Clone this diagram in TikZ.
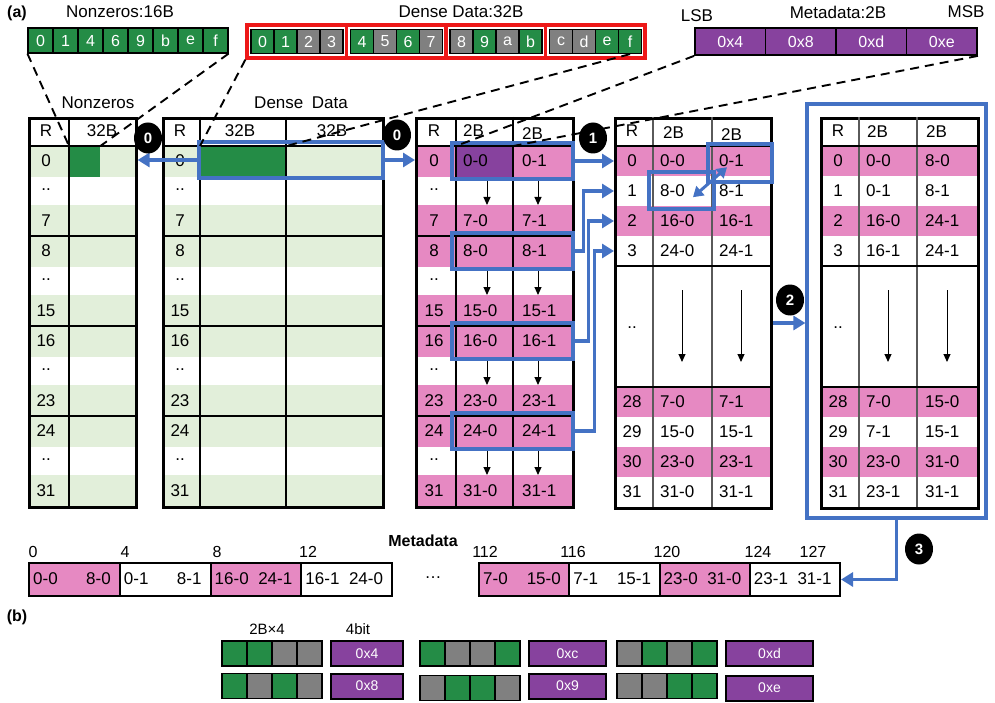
\documentclass[tikz,border=0pt]{standalone}
\usepackage{fontspec}
\setmainfont{Liberation Sans}
\usetikzlibrary{arrows.meta, positioning, shapes.geometric}
\definecolor{lightgreen}{RGB}{226,239,218}
\definecolor{nzgreen}{RGB}{36,140,70}
\definecolor{zgray}{RGB}{128,128,128}
\definecolor{rowpink}{RGB}{230,137,194}
\definecolor{metapurple}{RGB}{135,66,158}
\definecolor{selblue}{RGB}{68,114,196}
\definecolor{grpred}{RGB}{237,24,24}
\definecolor{sepgray}{RGB}{90,90,90}

\newcommand{\patcells}[4]{% x, y, name prefix, cell styles
  \foreach \cs [count=\k from 0] in {#4}
    \node[\cs, line width=1.6pt] (#3\k) at ({#1+12.5+25*\k},#2) {};}

\begin{document}
\begin{tikzpicture}[x=1pt, y=-1pt,
    every node/.style={font=\fontsize{17}{20}\selectfont, inner sep=0pt},
    lbl/.style={anchor=west},
    nzc/.style={draw=black, line width=1.2pt, fill=nzgreen, text=white,
                minimum width=25pt, minimum height=25pt,
                font=\fontsize{16}{18}\selectfont},
    zc/.style={nzc, fill=zgray},
    grpbox/.style={draw=grpred, line width=3.2pt, minimum width=99.5pt, minimum height=33pt},
    metac/.style={draw=black, line width=1.8pt, fill=metapurple, text=white,
                  minimum width=70.5pt, minimum height=27pt,
                  font=\fontsize{16}{18}\selectfont},
    tabframe/.style={draw=black, line width=2.6pt, anchor=north west},
    colline/.style={line width=1.4pt},
    grpline/.style={line width=2.6pt},
    selbox/.style={draw=selblue, line width=3.2pt},
    selarrow/.style={draw=selblue, line width=3.2pt, -{Triangle[length=12pt,width=14pt]}},
    swaparrow/.style={draw=selblue, line width=3pt,
                      {Triangle[length=10pt,width=12pt]}-{Triangle[length=10pt,width=12pt]}},
    downarrow/.style={-{Triangle[length=8pt,width=7pt]}, line width=1pt},
    dline/.style={dash pattern=on 9pt off 6pt, line width=1.9pt},
    badge/.style={ellipse, fill=black, text=white, minimum width=28pt, minimum height=31pt,
                  font=\bfseries\fontsize{15}{17}\selectfont},
    metabox/.style={draw=black, line width=2pt, minimum height=33pt, anchor=north west},
    patbox/.style={draw=black, line width=2pt, fill=metapurple, text=white,
                   minimum height=25pt, anchor=west, font=\fontsize{14}{16}\selectfont}
  ]
  \useasboundingbox (0,0) rectangle (995,703);

  % ---- (a) top strips
  \node[font=\bfseries\fontsize{16}{18}\selectfont] (alabel) at (17,13) {(a)};
  \node (nztitle) at (120,12) {Nonzeros:16B};
  \foreach \v [count=\i] in {0,1,4,6,9,b,e,f}
    \node[nzc] (nz\i) at ({15.5+25*\i},40.5) {\v};

  \node (ddtitle) at (461,12) {Dense Data:32B};
  \foreach \v/\cs [count=\j from 0] in {0/nzc,1/nzc,2/zc,3/zc,4/nzc,5/zc,6/nzc,7/zc,
                                        8/zc,9/nzc,a/zc,b/nzc,c/zc,d/zc,e/nzc,f/nzc} {
    \pgfmathtruncatemacro\gk{\j/4}
    \pgfmathtruncatemacro\pk{\j-4*\gk}
    \node[\cs, minimum width=23pt, minimum height=24pt] (dd\j) at ({262.5+99.5*\gk+23*\pk},41.5) {\v};
  }
  \foreach \k in {0,...,3}
    \node[grpbox] (dgrp\k) at ({296.75+99.5*\k},41.5) {};

  \node (lsb) at (697,16) {LSB};
  \node (mdtitle) at (838,12) {Metadata:2B};
  \node (msb) at (966,12) {MSB};
  \foreach \v [count=\i] in {0x4,0x8,0xd,0xe}
    \node[metac] (md\i) at ({659.75+70.5*\i},41.5) {\v};

  % ---- table 1: nonzeros
  \node (nzhead) at (98,103) {Nonzeros};
  \fill[lightgreen] (28,146) rectangle (135,506);
  \foreach \g in {0,...,3}
    \fill[white] (28,{177+90*\g}) rectangle (135,{205+90*\g});
  \node[fill=nzgreen, minimum width=31pt, minimum height=31pt, anchor=north west] (nzcell) at (69,146) {};
  \node[tabframe, minimum width=107pt, minimum height=389pt] (tab1) at (28,117) {};
  \draw[colline] (69,117) -- (69,506);
  \foreach \yy in {146,236,326,416}
    \draw[grpline] (28,\yy) -- (135,\yy);
  \node (t1h) at (46,131) {R};
  \node (t1d) at (102,131) {32B};
  \foreach \g/\va/\vc in {0/0/7,1/8/15,2/16/23,3/24/31} {
    \node (t1r\va) at (46,{161+90*\g}) {\va};
    \node (t1s\va) at (46,{190+90*\g}) {..};
    \node (t1r\vc) at (46,{221+90*\g}) {\vc};
  }

  % ---- table 2: dense data
  \node (ddhead) at (301,103) {Dense\enspace Data};
  \fill[lightgreen] (162,146) rectangle (382,506);
  \foreach \g in {0,...,3}
    \fill[white] (162,{177+90*\g}) rectangle (382,{205+90*\g});
  \node[fill=nzgreen, minimum width=86pt, minimum height=31pt, anchor=north west] (ddcell) at (200,146) {};
  \node[tabframe, minimum width=220pt, minimum height=389pt] (tab2) at (162,117) {};
  \draw[colline] (200,117) -- (200,506) (286,117) -- (286,506);
  \foreach \yy in {146,236,326,416}
    \draw[grpline] (162,\yy) -- (382,\yy);
  \node (t2h) at (180,131) {R};
  \node (t2d) at (240,131) {32B};
  \node (t2e) at (332,131) {32B};
  \foreach \g/\va/\vc in {0/0/7,1/8/15,2/16/23,3/24/31} {
    \node (t2r\va) at (180,{161+90*\g}) {\va};
    \node (t2s\va) at (180,{190+90*\g}) {..};
    \node (t2r\vc) at (180,{221+90*\g}) {\vc};
  }

  % ---- table 3: 2B halves
  \fill[rowpink] (415,146) rectangle (572,506);
  \foreach \g in {0,...,3}
    \fill[white] (415,{177+90*\g}) rectangle (572,{205+90*\g});
  \node[fill=metapurple, minimum width=57pt, minimum height=31pt, anchor=north west] (mdcell) at (456,146) {};
  \node[tabframe, minimum width=157pt, minimum height=389pt] (tab3) at (415,117) {};
  \draw[colline] (456,117) -- (456,506) (513,117) -- (513,506);
  \foreach \yy in {146,236,326,416}
    \draw[grpline] (415,\yy) -- (572,\yy);
  \node (t3h) at (434,131) {R};
  \node[lbl] (t3d) at (463,131) {2B};
  \node[lbl] (t3e) at (522,134) {2B};
  \foreach \g/\va/\vc in {0/0/7,1/8/15,2/16/23,3/24/31} {
    \node (t3r\va) at (434,{161+90*\g}) {\va};
    \node (t3s\va) at (434,{190+90*\g}) {..};
    \node (t3r\vc) at (434,{221+90*\g}) {\vc};
    \node[lbl] (t3a\va) at (463,{161+90*\g}) {\va-0};
    \node[lbl] (t3b\va) at (522,{161+90*\g}) {\va-1};
    \node[lbl] (t3a\vc) at (463,{221+90*\g}) {\vc-0};
    \node[lbl] (t3b\vc) at (522,{221+90*\g}) {\vc-1};
    \draw[downarrow] (487,{180+90*\g}) -- (487,{205+90*\g});
    \draw[downarrow] (538,{180+90*\g}) -- (538,{205+90*\g});
  }

  % ---- table 4: interleaved rows
  \fill[white] (614,146) rectangle (770,507);
  \foreach \yy in {146,206,387,447}
    \fill[rowpink] (614,\yy) rectangle (770,{\yy+30});
  \node[tabframe, minimum width=156pt, minimum height=390pt] (tab4) at (614,117) {};
  \draw[colline, draw=sepgray] (653,117) -- (653,507) (712,117) -- (712,507);
  \foreach \yy in {146,266,387}
    \draw[grpline] (614,\yy) -- (770,\yy);
  \node (t4h) at (632,131) {R};
  \node[lbl] (t4d) at (663,133) {2B};
  \node[lbl] (t4e) at (721,135) {2B};
  \foreach \rw/\yy/\ua/\ub in {0/161/0-0/0-1, 1/191/8-0/8-1, 2/221/16-0/16-1, 3/251/24-0/24-1,
                               28/402/7-0/7-1, 29/432/15-0/15-1, 30/462/23-0/23-1, 31/492/31-0/31-1} {
    \node (t4r\rw) at (632,\yy) {\rw};
    \node[lbl] (t4a\rw) at (660,\yy) {\ua};
    \node[lbl] (t4b\rw) at (719,\yy) {\ub};
  }
  \node (t4s) at (632,328) {..};
  \draw[downarrow] (682,290) -- (682,362);
  \draw[downarrow] (741,290) -- (741,362);
  \node[selbox, minimum width=64pt, minimum height=38pt] (selhi) at (740,163) {};
  \node[selbox, minimum width=65pt, minimum height=37pt] (sello) at (681.5,190.5) {};
  \draw[swaparrow] ([xshift=8pt]t4b0.south west) -- ([xshift=8pt]t4a1.south east);

  % ---- table 5: sorted metadata
  \node[selbox, minimum width=179pt, minimum height=414pt] (sortframe) at (896.5,311) {};
  \fill[white] (820,146) rectangle (977,507);
  \foreach \yy in {146,206,387,447}
    \fill[rowpink] (820,\yy) rectangle (977,{\yy+30});
  \node[tabframe, minimum width=157pt, minimum height=390pt] (tab5) at (820,117) {};
  \draw[colline, draw=sepgray] (859,117) -- (859,507) (917,117) -- (917,507);
  \foreach \yy in {146,266,387}
    \draw[grpline] (820,\yy) -- (977,\yy);
  \node (t5h) at (838,131) {R};
  \node[lbl] (t5d) at (867,132) {2B};
  \node[lbl] (t5e) at (926,132) {2B};
  \foreach \rw/\yy/\ua/\ub in {0/161/0-0/8-0, 1/191/0-1/8-1, 2/221/16-0/24-1, 3/251/16-1/24-1,
                               28/402/7-0/15-0, 29/432/7-1/15-1, 30/462/23-0/31-0, 31/492/23-1/31-1} {
    \node (t5r\rw) at (838,\yy) {\rw};
    \node[lbl] (t5a\rw) at (866,\yy) {\ua};
    \node[lbl] (t5b\rw) at (925,\yy) {\ub};
  }
  \node (t5s) at (838,328) {..};
  \draw[downarrow] (888,290) -- (888,362);
  \draw[downarrow] (947,290) -- (947,362);

  % ---- selections and moves
  \node[selbox, minimum width=184pt, minimum height=36pt] (seldense) at (291,160) {};
  \foreach \g/\va in {0/0,1/8,2/16,3/24}
    \node[selbox, minimum width=121pt, minimum height=36pt] (sel\va) at (512.5,{161+90*\g}) {};
  \draw[selarrow] (seldense.west) -- (seldense.west -| tab1.east);
  \draw[selarrow] (seldense.east) -- (seldense.east -| tab3.west);
  \draw[selarrow] (sel0.east) -- (sel0.east -| tab4.west);
  \draw[selarrow] (sel8.east) -- ++(9,0) |- (t4r1 -| tab4.west);
  \draw[selarrow] (sel16.east) -- ++(14,0) |- (t4r2 -| tab4.west);
  \draw[selarrow] (sel24.east) -- ++(20,0) |- (t4r3 -| tab4.west);
  \coordinate (step2) at (773,323);
  \draw[selarrow] (step2) -- (step2 -| sortframe.west);

  % ---- dashed mapping lines
  \draw[dline] (nz1.south west) -- (nzcell.north west);
  \draw[dline] (nz8.south east) -- (nzcell.north east);
  \draw[dline] (dgrp0.south west) -- (ddcell.north west);
  \draw[dline] (dd15.south) -- (ddcell.north east);
  \draw[dline] (md1.south west) -- (mdcell.north west);
  \draw[dline] (md4.south east) -- (mdcell.north east);

  % ---- step badges
  \node[badge] (b0l) at (148,138) {0};
  \node[badge] (b0r) at (397,135) {0};
  \node[badge] (b1) at (593,138) {1};
  \node[badge] (b2) at (790,300) {2};
  \node[badge] (b3) at (919,549) {3};

  % ---- metadata layout
  \node[font=\bfseries\fontsize{16}{18}\selectfont] (mdlabel) at (423,541) {Metadata};
  \foreach \ix/\xx in {0/33,4/125,8/217,12/308,112/485,116/573,120/667,124/758,127/813}
    \node[font=\fontsize{16}{18}\selectfont] (idx\ix) at (\xx,552) {\ix};
  \foreach \ua/\ub/\f [count=\i from 0] in {0-0/8-0/rowpink,0-1/8-1/white,16-0/24-1/rowpink,16-1/24-0/white} {
    \node[metabox, fill=\f, minimum width=90.75pt] (ma\i) at ({28+90.75*\i},562) {};
    \node[lbl] (mal\i) at ({33+90.75*\i},578.5) {\ua};
    \node[anchor=east] (mar\i) at ({111+90.75*\i},578.5) {\ub};
  }
  \node (gap) at (433,578) {\dots};
  \foreach \ua/\ub/\f [count=\i from 0] in {7-0/15-0/rowpink,7-1/15-1/white,23-0/31-0/rowpink,23-1/31-1/white} {
    \node[metabox, fill=\f, minimum width=90.25pt] (mb\i) at ({478+90.25*\i},562) {};
    \node[lbl] (mbl\i) at ({483+90.25*\i},578.5) {\ua};
    \node[anchor=east] (mbr\i) at ({561+90.25*\i},578.5) {\ub};
  }
  \draw[selarrow] (sortframe.south) |- (mb3.east);

  % ---- (b) patterns
  \node[font=\bfseries\fontsize{16}{18}\selectfont] (blabel) at (17,617) {(b)};
  \node[font=\fontsize{15}{17}\selectfont] (bcells) at (267,629) {2B×4};
  \node[font=\fontsize{15}{17}\selectfont] (bbits) at (358,629) {4bit};
  \patcells{222}{653.5}{pa}{nzc,nzc,zc,zc}
  \node[patbox, minimum width=72pt] (ha) at (330,653.5) {0x4};
  \patcells{420}{653.5}{pb}{nzc,zc,zc,nzc}
  \node[patbox, minimum width=77pt] (hb) at (528,653.5) {0xc};
  \patcells{617}{653.5}{pc}{zc,nzc,zc,nzc}
  \node[patbox, minimum width=87pt] (hc) at (725,653.5) {0xd};
  \patcells{222}{686}{pd}{nzc,zc,nzc,zc}
  \node[patbox, minimum width=72pt] (hd) at (330,686) {0x8};
  \patcells{420}{688}{pe}{zc,nzc,nzc,zc}
  \node[patbox, minimum width=77pt] (he) at (528,686) {0x9};
  \patcells{617}{686}{pf}{zc,zc,nzc,nzc}
  \node[patbox, minimum width=87pt] (hf) at (725,688) {0xe};
\end{tikzpicture}
\end{document}
